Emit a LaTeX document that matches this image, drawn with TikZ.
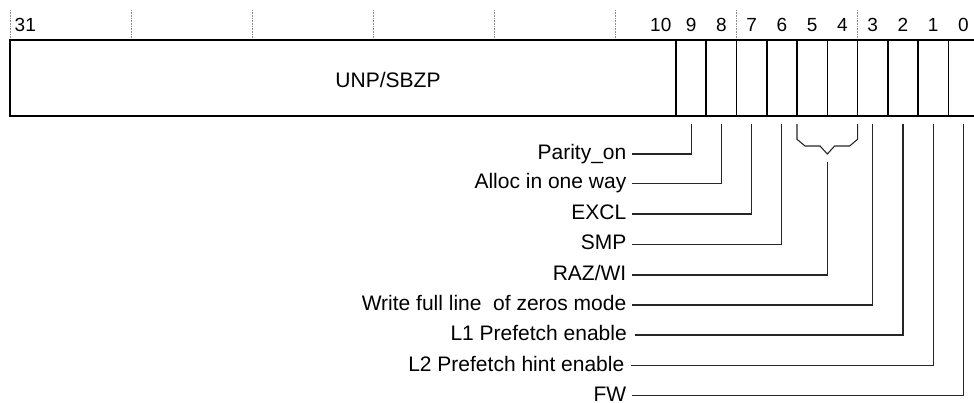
\documentclass[tikz,border=0pt]{standalone}
\usepackage{fontspec}
\setmainfont{Liberation Sans}
\begin{document}
\begin{tikzpicture}[x=1pt,y=-1pt,
  fieldbox/.style={draw, line width=1.5pt, minimum height=76pt, inner sep=0pt, outer sep=0pt, anchor=north west},
  bitfield/.style={fieldbox, minimum width=30.27pt},
  bitnum/.style={font=\fontsize{19}{22}\selectfont, inner sep=0pt, anchor=base},
  lbl/.style={font=\fontsize{21}{25}\selectfont, inner sep=0pt, text height=12pt, text depth=1pt, anchor=east},
  lead/.style={line width=1.1pt, black!85},
  guide/.style={black!45, densely dotted, line width=0.6pt}]
\clip (0,0) rectangle (974,403);
\def\w{30.27}
% dotted guides
\foreach \k in {0,...,7}
  \draw[guide] ({10+4*\k*\w},10) -- ({10+4*\k*\w},38);
% fields
\node[fieldbox, minimum width=665.94pt] (b31) at (10,40) {};
\foreach \b in {0,...,9}
  \node[bitfield] (b\b) at ({10+(31-\b)*\w},40) {};
\node[font=\fontsize{21}{25}\selectfont, inner sep=0pt, anchor=base] (unp) at (388,87.3) {UNP/SBZP};
% bit numbers
\node[bitnum, anchor=base west] (n31) at (14.5,31.5) {31};
\node[bitnum] (n10) at ({10+21.5*\w},31.5) {10};
\foreach \b in {0,...,9}
  \node[bitnum] (n\b) at ({10+(31.5-\b)*\w},31.5) {\b};
% labels
\node[lbl] (l9) at (626.5,154) {Parity\_on};
\node[lbl] (l8) at (626.5,183.5) {Alloc in one way};
\node[lbl] (l7) at (626.5,214) {EXCL};
\node[lbl] (l6) at (626.5,244.5) {SMP};
\node[lbl] (l54) at (626.5,275) {RAZ/WI};
\node[lbl] (l3) at (626.5,305) {Write full line\ \ of zeros mode};
\node[lbl] (l2) at (627,335) {L1 Prefetch enable};
\node[lbl] (l1) at (624.5,365.7) {L2 Prefetch hint enable};
\node[lbl] (l0) at (626.5,395.5) {FW};
% leaders
\draw[lead] ([yshift=-8pt]b9.south) |- ([xshift=5.5pt]l9.east);
\draw[lead] ([yshift=-8pt]b8.south) |- ([xshift=5.5pt]l8.east);
\draw[lead] ([yshift=-8pt]b7.south) |- ([xshift=5.5pt]l7.east);
\draw[lead] ([yshift=-8pt]b6.south) |- ([xshift=5.5pt]l6.east);
\draw[lead] ([yshift=-8pt]b5.south west) -- ++(0,15.3) -- ++(8,6.7) -- ++(15,0)
  -- ++(7.3,8) coordinate (apex) -- ++(7.3,-8) -- ++(15,0) -- ++(8,-6.7) -- ++(0,-15.3);
\draw[lead] ([yshift=-7.7pt]apex) |- ([xshift=5.5pt]l54.east);
\draw[lead] ([yshift=-8pt]b3.south) |- ([xshift=5.5pt]l3.east);
\draw[lead] ([yshift=-8pt]b2.south) |- ([xshift=8pt]l2.east);
\draw[lead] ([yshift=-8pt]b1.south) |- ([xshift=6.5pt]l1.east);
\draw[lead] ([yshift=-8pt]b0.south) |- ([xshift=5.5pt]l0.east);
\end{tikzpicture}
\end{document}
